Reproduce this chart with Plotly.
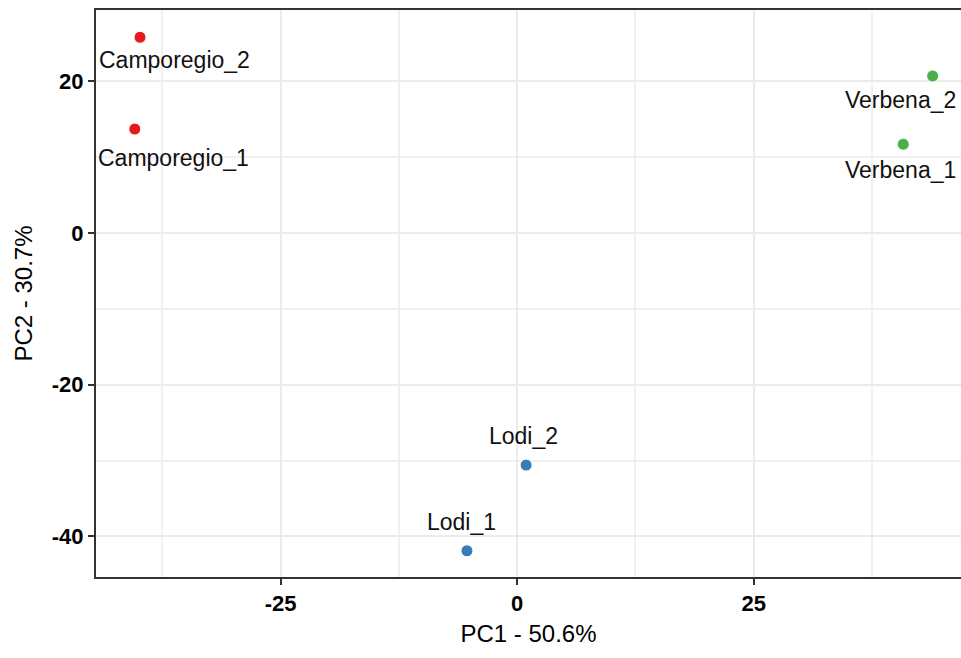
import plotly.graph_objects as go

samples = ["Camporegio_1", "Camporegio_2", "Lodi_1", "Lodi_2", "Verbena_1", "Verbena_2"]
groups = ["Camporegio", "Camporegio", "Lodi", "Lodi", "Verbena", "Verbena"]
pc1 = [-40.4, -39.85, -5.3, 0.95, 40.8, 43.9]
pc2 = [13.7, 25.8, -41.9, -30.6, 11.7, 20.7]

x_ticks = [-25, 0, 25]
y_ticks = [-40, -20, 0, 20]
x_title = "PC1 - 50.6%"
y_title = "PC2 - 30.7%"

group_colors = {"Camporegio": "#E41A1C", "Lodi": "#377EB8", "Verbena": "#4DAF4A"}
label_shift = {
    "Camporegio_1": (39, -29),
    "Camporegio_2": (34, -23),
    "Lodi_1": (-5, 29),
    "Lodi_2": (-3, 29),
    "Verbena_1": (-3, -26),
    "Verbena_2": (-32, -24),
}

FONT = "Liberation Sans, Arial"

fig = go.Figure()
for g in ["Camporegio", "Lodi", "Verbena"]:
    idx = [i for i, gg in enumerate(groups) if gg == g]
    fig.add_trace(go.Scatter(
        x=[pc1[i] for i in idx], y=[pc2[i] for i in idx],
        mode="markers", name=g,
        marker=dict(color=group_colors[g], size=12, line=dict(color="white", width=1)),
        showlegend=False,
    ))

for s, x, y in zip(samples, pc1, pc2):
    dx, dy = label_shift[s]
    fig.add_annotation(x=x, y=y, text=s, showarrow=False, xshift=dx, yshift=dy,
                       font=dict(family=FONT, size=23, color="#111111"))

axis_common = dict(
    showgrid=True, gridcolor="#EBEBEB", gridwidth=2,
    zeroline=False,
    showline=True, linecolor="#333333", linewidth=2,
    ticks="outside", ticklen=6, tickcolor="#333333", tickwidth=1.5,
    tickfont=dict(family=FONT, size=22, color="#000000", weight="bold"),
    title_font=dict(family=FONT, size=24, color="#000000"),
    minor=dict(showgrid=True, gridcolor="#F0F0F0", gridwidth=1.5),
)

fig.update_layout(
    width=961, height=658,
    margin=dict(l=96, r=0, t=10, b=81),
    paper_bgcolor="white", plot_bgcolor="white",
    xaxis=dict(axis_common, range=[-44.5, 46.9], tickvals=x_ticks,
               ticktext=[str(v) for v in x_ticks], title=dict(text=x_title, standoff=10),
               mirror=True),
    yaxis=dict(axis_common, range=[-45.35, 29.4], tickvals=y_ticks,
               ticktext=[str(v) for v in y_ticks], title=dict(text=y_title, standoff=12),
               mirror=False),
)
fig.update_xaxes(minor=dict(tickvals=[-37.5, -12.5, 12.5, 37.5]))
fig.update_yaxes(minor=dict(tickvals=[-30, -10, 10]))

fig.write_html("out.html",
               config={"displayModeBar": False},
               post_script="document.body.style.margin='0';document.body.style.overflow='hidden';")
